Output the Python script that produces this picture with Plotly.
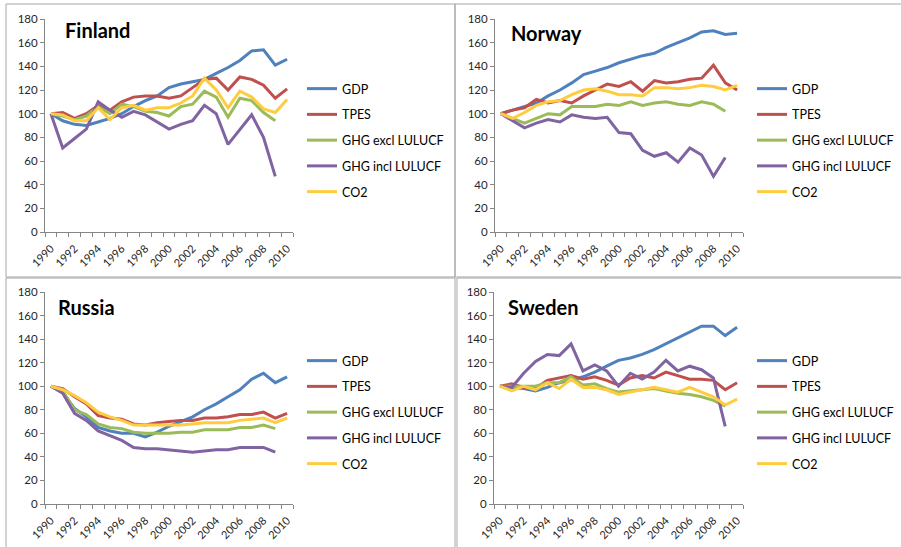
import plotly.graph_objects as go

years = list(range(1990, 2011))
series_names = ["GDP", "TPES", "GHG excl LULUCF", "GHG incl LULUCF", "CO2"]
series_colors = ["#4F81BD", "#C0504D", "#9BBB59", "#8064A2", "#FFCC40"]

finland_gdp = [100, 94, 91, 90, 93, 96, 100, 106, 111, 115, 122, 125, 127, 129, 134, 139, 145, 153, 154, 141, 146]
finland_tpes = [100, 101, 96, 100, 107, 103, 110, 114, 115, 115, 113, 115, 122, 129, 130, 120, 131, 129, 124, 113, 121]
finland_ghg_excl = [100, 98, 95, 98, 106, 100, 108, 106, 102, 101, 98, 106, 108, 119, 114, 97, 113, 111, 101, 94]
finland_ghg_incl = [100, 71, 79, 87, 110, 103, 97, 102, 99, 93, 87, 91, 94, 107, 100, 74, 87, 99, 80, 47]
finland_co2 = [100, 99, 94, 94, 105, 95, 105, 107, 103, 105, 105, 109, 115, 130, 120, 105, 119, 114, 104, 101, 112]

norway_gdp = [100, 103, 106, 109, 115, 120, 126, 133, 136, 139, 143, 146, 149, 151, 156, 160, 164, 169, 170, 167, 168]
norway_tpes = [100, 103, 105, 112, 109, 111, 109, 115, 120, 125, 123, 127, 119, 128, 126, 127, 129, 130, 141, 126, 120]
norway_ghg_excl = [100, 96, 92, 96, 100, 99, 106, 106, 106, 108, 107, 110, 107, 109, 110, 108, 107, 110, 108, 102]
norway_ghg_incl = [100, 94, 88, 92, 95, 93, 99, 97, 96, 97, 84, 83, 69, 64, 67, 59, 71, 65, 47, 63]
norway_co2 = [100, 96, 101, 107, 110, 111, 116, 120, 121, 119, 116, 116, 115, 122, 122, 121, 122, 124, 123, 120, 124]

russia_gdp = [100, 95, 81, 74, 65, 62, 60, 60, 57, 61, 66, 70, 74, 80, 85, 91, 97, 106, 111, 103, 108]
russia_tpes = [100, 98, 91, 85, 75, 73, 72, 68, 67, 69, 70, 71, 71, 73, 73, 74, 76, 76, 78, 73, 77]
russia_ghg_excl = [100, 96, 80, 76, 68, 65, 64, 61, 60, 60, 60, 61, 61, 63, 63, 63, 65, 65, 67, 64]
russia_ghg_incl = [100, 94, 77, 71, 62, 58, 54, 48, 47, 47, 46, 45, 44, 45, 46, 46, 48, 48, 48, 44]
russia_co2 = [100, 97, 92, 86, 78, 74, 71, 67, 67, 67, 67, 67, 68, 69, 69, 69, 71, 72, 73, 69, 73]

sweden_gdp = [100, 99, 98, 96, 99, 103, 105, 108, 112, 117, 122, 124, 127, 131, 136, 141, 146, 151, 151, 143, 150]
sweden_tpes = [100, 102, 99, 98, 105, 107, 109, 106, 108, 105, 101, 107, 109, 107, 112, 109, 106, 106, 105, 97, 103]
sweden_ghg_excl = [100, 100, 100, 100, 103, 103, 108, 101, 102, 98, 95, 96, 97, 98, 96, 94, 93, 91, 88, 83]
sweden_ghg_incl = [100, 99, 111, 121, 127, 126, 136, 113, 118, 113, 100, 111, 106, 112, 122, 113, 117, 114, 107, 66]
sweden_co2 = [100, 96, 100, 97, 103, 98, 106, 99, 99, 97, 93, 95, 97, 99, 97, 95, 99, 95, 91, 84, 89]

countries = ["Finland", "Norway", "Russia", "Sweden"]
country_data = {
    "Finland": [finland_gdp, finland_tpes, finland_ghg_excl, finland_ghg_incl, finland_co2],
    "Norway": [norway_gdp, norway_tpes, norway_ghg_excl, norway_ghg_incl, norway_co2],
    "Russia": [russia_gdp, russia_tpes, russia_ghg_excl, russia_ghg_incl, russia_co2],
    "Sweden": [sweden_gdp, sweden_tpes, sweden_ghg_excl, sweden_ghg_incl, sweden_co2],
}

W, H = 901, 547
FONT = "Lato, 'Open Sans', sans-serif"

def px_x(p):
    return p / W

def px_y(p):
    return 1 - p / H

# plot area positions (pixels): x0, x1, ytop, ybottom
panels = {
    "Finland": (45, 293, 19, 232),
    "Norway": (495, 743, 19, 232),
    "Russia": (45, 293, 292, 504),
    "Sweden": (494, 743, 292, 504),
}
legend_pos = {
    "Finland": (302, 140.5),
    "Norway": (752, 140.5),
    "Russia": (302, 412.5),
    "Sweden": (752, 412.5),
}
title_pos = {
    "Finland": (63, 30),
    "Norway": (509, 33),
    "Russia": (56, 307),
    "Sweden": (506, 307),
}
borders = [
    (6, 455, 4, 277),
    (455, 910, 4, 277),
    (6, 455, 278, 560),
    (457, 910, 278, 560),
]

fig = go.Figure()
layout = {}
annotations = []
axis_color = "#868686"

for i, c in enumerate(countries):
    n = i + 1
    xa = "x" if n == 1 else f"x{n}"
    ya = "y" if n == 1 else f"y{n}"
    lg = "legend" if n == 1 else f"legend{n}"
    for name, color, vals in zip(series_names, series_colors, country_data[c]):
        fig.add_trace(go.Scatter(
            x=years[:len(vals)], y=vals, name=name, mode="lines",
            line=dict(color=color, width=3),
            xaxis=xa, yaxis=ya, legend=lg, legendgroup=f"{c}-{name}",
        ))
    x0, x1, yt, yb = panels[c]
    layout["xaxis" if n == 1 else f"xaxis{n}"] = dict(
        domain=[px_x(x0), px_x(x1)], anchor=ya,
        range=[1989.5, 2010.5], tickvals=years[::2], ticktext=[str(y) for y in years[::2]],
        tickangle=-45, ticks="outside", ticklen=5, tickcolor="rgba(0,0,0,0)",
        minor=dict(tick0=1989.5, dtick=1, ticks="outside", ticklen=4, tickcolor=axis_color, tickwidth=1),
        showline=True, linecolor=axis_color, linewidth=1, showgrid=False, zeroline=False,
        tickfont=dict(family=FONT, size=11, color="#262626"), fixedrange=True,
    )
    layout["yaxis" if n == 1 else f"yaxis{n}"] = dict(
        domain=[px_y(yb), px_y(yt)], anchor=xa,
        range=[0, 180], dtick=20, ticks="outside", ticklen=4, tickcolor=axis_color,
        showline=True, linecolor=axis_color, linewidth=1, showgrid=False, zeroline=False,
        tickfont=dict(family=FONT, size=11.5, color="#262626"), fixedrange=True,
    )
    lx, ly = legend_pos[c]
    layout[lg] = dict(
        x=px_x(lx), y=px_y(ly), xanchor="left", yanchor="middle",
        bgcolor="rgba(0,0,0,0)", font=dict(family=FONT, size=12.5, color="#000000"),
        tracegroupgap=6.5, itemwidth=30,
    )
    tx, ty = title_pos[c]
    annotations.append(dict(
        text=f"<b>{c}</b>", x=px_x(tx), y=px_y(ty), xref="paper", yref="paper",
        xanchor="left", yanchor="middle", showarrow=False,
        font=dict(family=FONT, size=20, color="#000000"),
    ))

shapes = []
for bx0, bx1, by0, by1 in borders:
    shapes.append(dict(type="rect", xref="paper", yref="paper",
                       x0=px_x(bx0), x1=px_x(bx1), y0=px_y(by1), y1=px_y(by0),
                       line=dict(color="#A6A6A6", width=1), fillcolor="rgba(0,0,0,0)", layer="below"))

fig.update_layout(
    width=W, height=H, margin=dict(l=0, r=0, t=0, b=0, pad=0, autoexpand=False),
    paper_bgcolor="white", plot_bgcolor="white",
    annotations=annotations, shapes=shapes, showlegend=True,
    **layout,
)

fig.write_html(
    "out.html",
    config={"displayModeBar": False},
    post_script="document.body.style.margin='0px'; document.body.style.overflow='hidden';",
)
